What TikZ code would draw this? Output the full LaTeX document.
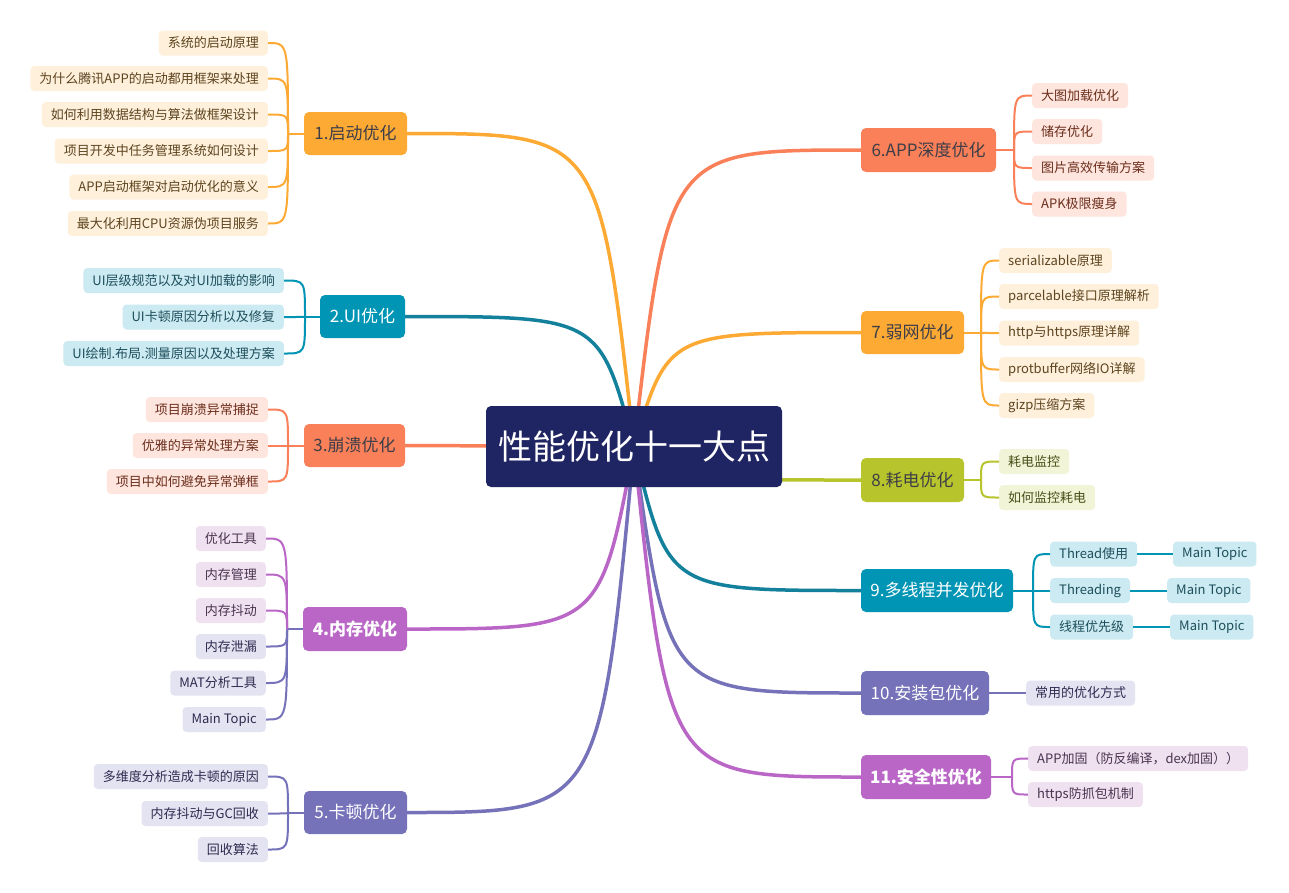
\documentclass[tikz,border=0pt]{standalone}
\usepackage{fontspec}
\setmainfont{Noto Sans CJK SC}
\usetikzlibrary{backgrounds,calc}
\definecolor{cOr}{HTML}{FDAA35}
\definecolor{cOrL}{HTML}{FEF0DA}
\definecolor{cOrT}{HTML}{5E4420}
\definecolor{cTe}{HTML}{0095B5}
\definecolor{cTeD}{HTML}{13809C}
\definecolor{cTeL}{HTML}{CCEAF1}
\definecolor{cTeT}{HTML}{1D4E5C}
\definecolor{cCo}{HTML}{F98058}
\definecolor{cCoL}{HTML}{FEE5DD}
\definecolor{cCoT}{HTML}{6B2E1C}
\definecolor{cPu}{HTML}{B966C6}
\definecolor{cPuL}{HTML}{EFE1F0}
\definecolor{cPuT}{HTML}{4A3350}
\definecolor{cSl}{HTML}{7672B9}
\definecolor{cSlL}{HTML}{E4E3F1}
\definecolor{cSlT}{HTML}{2E2B50}
\definecolor{cYg}{HTML}{B7C42B}
\definecolor{cYgL}{HTML}{F2F4D7}
\definecolor{cYgT}{HTML}{4A501A}
\definecolor{cNv}{HTML}{1F2462}
\definecolor{cDk}{HTML}{3E3E48}
\tikzset{
  mainbox/.style={rounded corners=5pt, minimum height=43pt, inner sep=0pt, font=\fontsize{17}{20}\selectfont},
  subbox/.style={rounded corners=4pt, minimum height=25pt, inner xsep=9pt, inner ysep=0pt, font=\fontsize{13}{15}\selectfont},
  bigline/.style={line width=3.5pt},
  smallline/.style={line width=2pt},
}
\begin{document}
\begin{tikzpicture}[x=1pt,y=-1pt]
\useasboundingbox (0,0) rectangle (1289,892);
% center
\node[rounded corners=5pt, fill=cNv, text=white, minimum width=296pt, minimum height=81pt, inner sep=0pt, font=\fontsize{34}{40}\selectfont] (c) at (634,446.5) {性能优化十一大点};
% main topics
\node[mainbox, fill=cOr, text=cDk, minimum width=103pt] (n1) at (355.5,133.5) {1.启动优化};
\node[mainbox, fill=cTe, text=white, minimum width=85pt] (n2) at (362.5,316.5) {2.UI优化};
\node[mainbox, fill=cCo, text=cDk, minimum width=101pt] (n3) at (354.5,445.5) {3.崩溃优化};
\node[mainbox, fill=cPu, text=white, minimum width=104pt, minimum height=44pt, font=\fontsize{17}{20}\selectfont\bfseries] (n4) at (355,629) {4.内存优化};
\node[mainbox, fill=cSl, text=white, minimum width=103pt] (n5) at (355.5,812.5) {5.卡顿优化};
\node[mainbox, fill=cCo, text=cDk, minimum width=135pt, minimum height=44pt] (n6) at (928.5,150) {6.APP深度优化};
\node[mainbox, fill=cOr, text=cDk, minimum width=103pt] (n7) at (912.5,332.5) {7.弱网优化};
\node[mainbox, fill=cYg, text=cDk, minimum width=103pt, minimum height=44pt] (n8) at (912.5,480) {8.耗电优化};
\node[mainbox, fill=cTe, text=white, minimum width=152pt] (n9) at (937,590.5) {9.多线程并发优化};
\node[mainbox, fill=cSl, text=white, minimum width=128pt, minimum height=44pt] (n10) at (925,693) {10.安装包优化};
\node[mainbox, fill=cPu, text=white, minimum width=130pt, minimum height=44pt, font=\fontsize{17}{20}\selectfont\bfseries] (n11) at (926,777) {11.安全性优化};
% subtopics 1
\node[subbox, fill=cOrL, text=cOrT, anchor=east] (s11) at (268,43) {系统的启动原理};
\node[subbox, fill=cOrL, text=cOrT, anchor=east] (s12) at (268,78.5) {为什么腾讯APP的启动都用框架来处理};
\node[subbox, fill=cOrL, text=cOrT, anchor=east] (s13) at (268,114.5) {如何利用数据结构与算法做框架设计};
\node[subbox, fill=cOrL, text=cOrT, anchor=east] (s14) at (268,151) {项目开发中任务管理系统如何设计};
\node[subbox, fill=cOrL, text=cOrT, anchor=east] (s15) at (268,187) {APP启动框架对启动优化的意义};
\node[subbox, fill=cOrL, text=cOrT, anchor=east] (s16) at (268,223.5) {最大化利用CPU资源伪项目服务};
% subtopics 2
\node[subbox, fill=cTeL, text=cTeT, anchor=east] (s21) at (284,280.5) {UI层级规范以及对UI加载的影响};
\node[subbox, fill=cTeL, text=cTeT, anchor=east] (s22) at (284,317) {UI卡顿原因分析以及修复};
\node[subbox, fill=cTeL, text=cTeT, anchor=east] (s23) at (284,353.5) {UI绘制.布局.测量原因以及处理方案};
% subtopics 3
\node[subbox, fill=cCoL, text=cCoT, anchor=east] (s31) at (268,409.5) {项目崩溃异常捕捉};
\node[subbox, fill=cCoL, text=cCoT, anchor=east] (s32) at (268,445.5) {优雅的异常处理方案};
\node[subbox, fill=cCoL, text=cCoT, anchor=east] (s33) at (268,481.5) {项目中如何避免异常弹框};
% subtopics 4
\node[subbox, fill=cPuL, text=cPuT, anchor=east] (s41) at (266,538.5) {优化工具};
\node[subbox, fill=cPuL, text=cPuT, anchor=east] (s42) at (266,574.5) {内存管理};
\node[subbox, fill=cPuL, text=cPuT, anchor=east] (s43) at (266,610.5) {内存抖动};
\node[subbox, fill=cSlL, text=cSlT, anchor=east] (s44) at (266,646.5) {内存泄漏};
\node[subbox, fill=cSlL, text=cSlT, anchor=east] (s45) at (266,683) {MAT分析工具};
\node[subbox, fill=cSlL, text=cSlT, anchor=east] (s46) at (266,719.5) {Main Topic};
% subtopics 5
\node[subbox, fill=cSlL, text=cSlT, anchor=east] (s51) at (268,776.5) {多维度分析造成卡顿的原因};
\node[subbox, fill=cSlL, text=cSlT, anchor=east] (s52) at (268,813.5) {内存抖动与GC回收};
\node[subbox, fill=cSlL, text=cSlT, anchor=east] (s53) at (268,849.5) {回收算法};
% subtopics 6
\node[subbox, fill=cCoL, text=cCoT, anchor=west] (s61) at (1032,95.5) {大图加载优化};
\node[subbox, fill=cCoL, text=cCoT, anchor=west] (s62) at (1032,131.5) {储存优化};
\node[subbox, fill=cCoL, text=cCoT, anchor=west] (s63) at (1032,168) {图片高效传输方案};
\node[subbox, fill=cCoL, text=cCoT, anchor=west] (s64) at (1032,204) {APK极限瘦身};
% subtopics 7
\node[subbox, fill=cOrL, text=cOrT, anchor=west] (s71) at (999,260.5) {serializable原理};
\node[subbox, fill=cOrL, text=cOrT, anchor=west] (s72) at (999,296.5) {parcelable接口原理解析};
\node[subbox, fill=cOrL, text=cOrT, anchor=west] (s73) at (999,333) {http与https原理详解};
\node[subbox, fill=cOrL, text=cOrT, anchor=west] (s74) at (999,369.5) {protbuffer网络IO详解};
\node[subbox, fill=cOrL, text=cOrT, anchor=west] (s75) at (999,405.5) {gizp压缩方案};
% subtopics 8
\node[subbox, fill=cYgL, text=cYgT, anchor=west] (s81) at (999,461.5) {耗电监控};
\node[subbox, fill=cYgL, text=cYgT, anchor=west] (s82) at (999,497.5) {如何监控耗电};
% subtopics 9
\node[subbox, fill=cTeL, text=cTeT, anchor=west] (s91) at (1050,554) {Thread使用};
\node[subbox, fill=cTeL, text=cTeT, anchor=west] (s92) at (1050,590.5) {Threading};
\node[subbox, fill=cTeL, text=cTeT, anchor=west] (s93) at (1050,627) {线程优先级};
\node[subbox, fill=cTeL, text=cTeT, anchor=west] (t91) at (1173,554) {Main Topic};
\node[subbox, fill=cTeL, text=cTeT, anchor=west] (t92) at (1167,590.5) {Main Topic};
\node[subbox, fill=cTeL, text=cTeT, anchor=west] (t93) at (1170,627) {Main Topic};
% subtopics 10
\node[subbox, fill=cSlL, text=cSlT, anchor=west] (s101) at (1026,693) {常用的优化方式};
% subtopics 11
\node[subbox, fill=cPuL, text=cPuT, anchor=west] (s111) at (1028,758.5) {APP加固（防反编译，dex加固））};
\node[subbox, fill=cPuL, text=cPuT, anchor=west] (s112) at (1028,794.5) {https防抓包机制};
% junctions
\coordinate (j1) at (288,133.5);
\coordinate (j2) at (305,316.5);
\coordinate (j3) at (288,445.5);
\coordinate (j4) at (287,629);
\coordinate (j5) at (288,812.5);
\coordinate (j6) at (1014,150);
\coordinate (j7) at (981,332.5);
\coordinate (j8) at (981,480);
\coordinate (j9) at (1033,590.5);
\coordinate (j11) at (1012,777);
\begin{scope}[on background layer]
\fill[white] (0,0) rectangle (1289,892);
% central connectors
\foreach \n/\a/\col in {n1/east/cOr, n2/east/cTeD, n4/east/cPu, n5/east/cSl, n6/west/cCo, n7/west/cOr, n8/west/cYg, n9/west/cTeD, n10/west/cSl, n11/west/cPu} {
  \coordinate (k) at ($(c.center)!0.15!(\n.\a)$);
  \draw[bigline, \col] (c.center) .. controls (k |- \n.\a) .. (\n.\a);
}
\draw[bigline, cCo] (c.center) -- (n3.east);
\end{scope}
% sub connectors
\draw[smallline, cOr] (n1.west) -- (j1);
\foreach \s in {s11,s12,s13,s14,s15,s16}
  \draw[smallline, cOr] (\s.east) .. controls (j1 |- \s.east) .. (j1);
\draw[smallline, cTe] (n2.west) -- (j2);
\foreach \s in {s21,s22,s23}
  \draw[smallline, cTe] (\s.east) .. controls (j2 |- \s.east) .. (j2);
\draw[smallline, cCo] (n3.west) -- (j3);
\foreach \s in {s31,s32,s33}
  \draw[smallline, cCo] (\s.east) .. controls (j3 |- \s.east) .. (j3);
\draw[smallline, cSl] (n4.west) -- (j4);
\foreach \s in {s44,s45,s46}
  \draw[smallline, cSl] (\s.east) .. controls (j4 |- \s.east) .. (j4);
\foreach \s in {s41,s42,s43}
  \draw[smallline, cPu] (\s.east) .. controls (j4 |- \s.east) .. (j4);
\draw[smallline, cSl] (n5.west) -- (j5);
\foreach \s in {s51,s52,s53}
  \draw[smallline, cSl] (\s.east) .. controls (j5 |- \s.east) .. (j5);
\draw[smallline, cCo] (n6.east) -- (j6);
\foreach \s in {s61,s62,s63,s64}
  \draw[smallline, cCo] (\s.west) .. controls (j6 |- \s.west) .. (j6);
\draw[smallline, cOr] (n7.east) -- (j7);
\foreach \s in {s71,s72,s73,s74,s75}
  \draw[smallline, cOr] (\s.west) .. controls (j7 |- \s.west) .. (j7);
\draw[smallline, cYg] (n8.east) -- (j8);
\foreach \s in {s81,s82}
  \draw[smallline, cYg] (\s.west) .. controls (j8 |- \s.west) .. (j8);
\draw[smallline, cTe] (n9.east) -- (j9);
\foreach \s in {s91,s92,s93}
  \draw[smallline, cTe] (\s.west) .. controls (j9 |- \s.west) .. (j9);
\draw[smallline, cTe] (s91.east) -- (t91.west);
\draw[smallline, cTe] (s92.east) -- (t92.west);
\draw[smallline, cTe] (s93.east) -- (t93.west);
\draw[smallline, cSl] (n10.east) -- (s101.west);
\draw[smallline, cPu] (n11.east) -- (j11);
\foreach \s in {s111,s112}
  \draw[smallline, cPu] (\s.west) .. controls (j11 |- \s.west) .. (j11);
\end{tikzpicture}
\end{document}
